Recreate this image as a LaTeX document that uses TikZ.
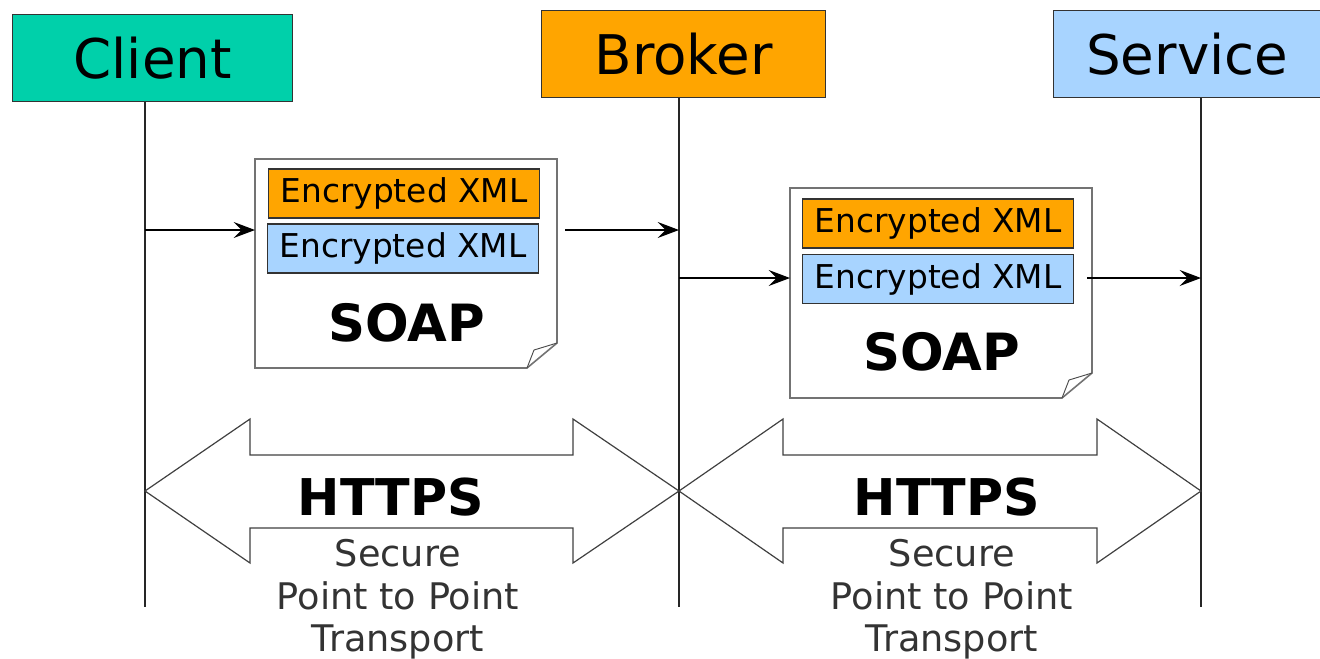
\documentclass[tikz,border=0pt]{standalone}
\usepackage{fontspec}
\setmainfont{DejaVu Sans}
\usetikzlibrary{arrows.meta}
\definecolor{cteal}{HTML}{00D0AA}
\definecolor{corange}{HTML}{FFA500}
\definecolor{cblue}{HTML}{A8D4FF}
\begin{document}
\begin{tikzpicture}[x=0.75pt,y=-0.75pt,
  header/.style={draw=black!80,line width=1.1pt,minimum width=#1,minimum height=65.25pt,inner sep=0pt,font=\fontsize{41}{45}\selectfont},
  xmlbox/.style={draw=black!80,line width=1.1pt,fill=#1,minimum width=203.25pt,minimum height=36.75pt,inner sep=0pt,font=\fontsize{24.6}{28}\selectfont},
  soaptxt/.style={font=\bfseries\fontsize{38.5}{42}\selectfont,inner sep=0pt},
  doc/.style={draw=black!55,line width=1.2pt,fill=white},
  msg/.style={line width=0.9pt,-{Stealth[length=16pt,width=12pt,inset=6pt]}},
  life/.style={line width=1.1pt,black!85},
  https/.style={draw=black!75,line width=0.9pt,fill=white},
  httpstxt/.style={font=\bfseries\fontsize{38}{42}\selectfont,inner sep=0pt},
  subtxt/.style={font=\fontsize{27.5}{32}\selectfont,text=black!80,align=center,inner sep=0pt}
]
\useasboundingbox (0,0) rectangle (1320,658);
% headers
\node[header=210pt,fill=cteal,anchor=north west] (client) at (12,14) {Client};
\node[header=213pt,fill=corange,anchor=north west] (broker) at (541,10) {Broker};
\node[header=200.25pt,fill=cblue,anchor=north west] (service) at (1053,10) {Service};
% lifeline ends
\coordinate (cend) at (145,607);
\coordinate (bend) at (679,607);
\coordinate (send) at (1201,607);
\draw[life] (client.south -| cend) -- (cend);
\draw[life] (broker.south -| bend) -- (bend);
\draw[life] (service.south -| send) -- (send);
% HTTPS double arrows
\draw[https] (145,491) -- (250,419) -- (250,455) -- (573,455) -- (573,419) -- (679,491) -- (573,563) -- (573,528) -- (250,528) -- (250,563) -- cycle;
\draw[https] (679,491) -- (783,419) -- (783,455) -- (1097,455) -- (1097,419) -- (1201,491) -- (1097,563) -- (1097,528) -- (783,528) -- (783,563) -- cycle;
\node[httpstxt] (h1) at (391,497) {HTTPS};
\node[httpstxt] (h2) at (947,497) {HTTPS};
\node[subtxt,anchor=north] (s1) at (398,539) {Secure\\Point to Point\\Transport};
\node[subtxt,anchor=north] (s2) at (952,539) {Secure\\Point to Point\\Transport};
% document 1
\draw[doc] (255,159) -- (557,159) -- (557,343) -- (527,368) -- (255,368) -- cycle;
\draw[black!70,line width=0.7pt] (557,343) -- (534,350) -- (527,368);
\node[draw=none,minimum width=226.5pt,minimum height=156.75pt,anchor=north west,inner sep=0pt] (doc1) at (255,159) {};
\node[xmlbox=corange] (x1a) at (404,193.5) {Encrypted XML};
\node[xmlbox=cblue] (x1b) at (403,248.5) {Encrypted XML};
\node[soaptxt] (soap1) at (407,323) {SOAP};
% document 2
\draw[doc] (790,188) -- (1092,188) -- (1092,373) -- (1062,398) -- (790,398) -- cycle;
\draw[black!70,line width=0.7pt] (1092,373) -- (1069,380) -- (1062,398);
\node[draw=none,minimum width=226.5pt,minimum height=157.5pt,anchor=north west,inner sep=0pt] (doc2) at (790,188) {};
\node[xmlbox=corange] (x2a) at (938,223.5) {Encrypted XML};
\node[xmlbox=cblue] (x2b) at (938,279) {Encrypted XML};
\node[soaptxt] (soap2) at (942,352) {SOAP};
% messages
\coordinate (m1s) at (145,230);
\coordinate (m1e) at (679,230);
\coordinate (m2s) at (679,278);
\coordinate (m2e) at (1201,278);
\coordinate (d1out) at (565,230);
\coordinate (d2out) at (1087,278);
\draw[msg] (m1s) -- (doc1.west |- m1s);
\draw[msg] (d1out) -- (m1e);
\draw[msg] (m2s) -- (doc2.west |- m2s);
\draw[msg] (d2out) -- (m2e);
\end{tikzpicture}
\end{document}
